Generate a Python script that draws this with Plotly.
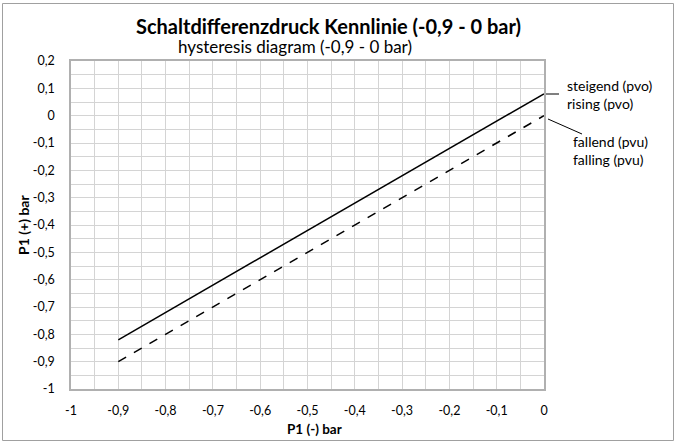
import plotly.graph_objects as go

# data
x_rising = [-0.9, 0.0]
y_rising = [-0.82, 0.08]
x_falling = [-0.9, 0.0]
y_falling = [-0.9, 0.0]

x_tickvals = [-1, -0.9, -0.8, -0.7, -0.6, -0.5, -0.4, -0.3, -0.2, -0.1, 0]
x_ticktext = ["-1", "-0,9", "-0,8", "-0,7", "-0,6", "-0,5", "-0,4", "-0,3", "-0,2", "-0,1", "0"]
y_tickvals = [-1, -0.9, -0.8, -0.7, -0.6, -0.5, -0.4, -0.3, -0.2, -0.1, 0, 0.1, 0.2]
y_ticktext = ["-1", "-0,9", "-0,8", "-0,7", "-0,6", "-0,5", "-0,4", "-0,3", "-0,2", "-0,1", "0", "0,1", "0,2"]

FONT = "Lato"
L, R, T, B = 71, 132, 61, 52
W, H = 676, 441
pw, ph = W - L - R, H - T - B

def px(x):
    return (x - L) / pw

def py(y):
    return (H - B - y) / ph

fig = go.Figure()
fig.add_trace(go.Scatter(x=x_rising, y=y_rising, mode="lines",
                         line=dict(color="black", width=1.5), showlegend=False))
fig.add_trace(go.Scatter(x=x_falling, y=y_falling, mode="lines",
                         line=dict(color="black", width=1.5, dash="dash"), showlegend=False))

axis_common = dict(showgrid=True, gridcolor="#d4d4d4", gridwidth=1,
                   zeroline=False, showline=True, linecolor="#b0b0b0", linewidth=1.5,
                   ticks="", tickfont=dict(family=FONT, size=12.5, color="black"),
                   minor=dict(dtick=0.05, showgrid=True, gridcolor="#d4d4d4", gridwidth=1))

fig.update_xaxes(range=[-1, 0], tickvals=x_tickvals, ticktext=x_ticktext,
                 mirror=True, ticklabelstandoff=9, **axis_common)
fig.update_yaxes(range=[-1, 0.2], tickvals=y_tickvals, ticktext=y_ticktext,
                 mirror=True, ticklabelstandoff=12, **axis_common)

annotations = [
    dict(text="<b>Schaltdifferenzdruck Kennlinie (-0,9 - 0 bar)</b>", x=px(328), y=py(26),
         xref="paper", yref="paper", showarrow=False, xanchor="center", yanchor="middle",
         font=dict(family=FONT, size=20, color="black")),
    dict(text="hysteresis diagram (-0,9 - 0 bar)", x=px(295), y=py(47),
         xref="paper", yref="paper", showarrow=False, xanchor="center", yanchor="middle",
         font=dict(family=FONT, size=17, color="black")),
    dict(text="<b>P1 (-) bar</b>", x=px(314.5), y=py(428.5),
         xref="paper", yref="paper", showarrow=False, xanchor="center", yanchor="middle",
         font=dict(family=FONT, size=13.5, color="black")),
    dict(text="<b>P1 (+) bar</b>", x=px(23), y=py(225), textangle=-90,
         xref="paper", yref="paper", showarrow=False, xanchor="center", yanchor="middle",
         font=dict(family=FONT, size=14, color="black")),
    dict(text="steigend (pvo)<br>rising (pvo)", x=px(565), y=py(94),
         xref="paper", yref="paper", showarrow=False, xanchor="left", yanchor="middle", align="left",
         font=dict(family=FONT, size=14, color="black")),
    dict(text="fallend (pvu)<br>falling (pvu)", x=px(571), y=py(150.5),
         xref="paper", yref="paper", showarrow=False, xanchor="left", yanchor="middle", align="left",
         font=dict(family=FONT, size=14, color="black")),
]

shapes = [
    dict(type="line", xref="paper", yref="paper", x0=px(546), y0=py(94), x1=px(559), y1=py(94),
         line=dict(color="black", width=1)),
    dict(type="line", xref="paper", yref="paper", x0=px(548), y0=py(119), x1=px(582), y1=py(134),
         line=dict(color="black", width=1)),
    dict(type="rect", xref="paper", yref="paper", x0=px(2.5), y0=py(440.5), x1=px(673.5), y1=py(3.5),
         line=dict(color="#a0a0a0", width=1), layer="below"),
]

fig.update_layout(width=W, height=H, margin=dict(l=L, r=R, t=T, b=B),
                  paper_bgcolor="white", plot_bgcolor="white",
                  annotations=annotations, shapes=shapes, showlegend=False)

fig.write_html("out.html", config={"displayModeBar": False},
               post_script="document.body.style.margin='0';document.body.style.padding='0';")
